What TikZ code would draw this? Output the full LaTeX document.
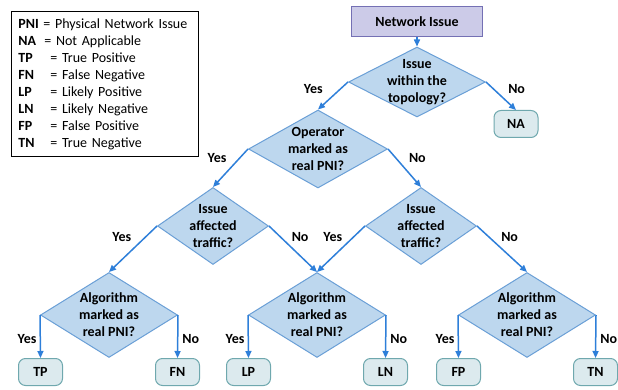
\documentclass[tikz,border=0pt]{standalone}
\usepackage{fontspec}
\setmainfont{Carlito}
\usepackage{xcolor}
\usetikzlibrary{positioning, shapes.geometric, arrows.meta}

\definecolor{decfill}{HTML}{BDD7EE}
\definecolor{decline}{HTML}{6A9FD6}
\definecolor{leaffill}{HTML}{DCEAEE}
\definecolor{leafline}{HTML}{6FA8AE}
\definecolor{topfill}{HTML}{CCCBE8}
\definecolor{topline}{HTML}{7470B4}
\definecolor{arrowblue}{HTML}{2E7FD9}

\newcommand{\keyrow}[3]{\makebox[#1][l]{\textbf{#2}}= #3}

\begin{document}
\begin{tikzpicture}[on grid, line width=1pt, font=\fontsize{14pt}{17pt}\selectfont\bfseries, decision/.style ={diamond, draw=decline, fill=decfill, aspect=1.8, inner sep=-12pt, align=center}, outcome/.style={rectangle, rounded corners=7pt, draw=leafline, fill=leaffill, minimum width=44pt, minimum height=27pt, inner sep=0pt}, issue/.style={rectangle, draw=topline, fill=topfill, minimum width=131pt, minimum height=30pt}, flow/.style={draw=arrowblue, line width=1.5pt, -{Triangle[length=7pt,width=6pt]}}, ans/.style={inner sep=0pt, on grid=false}, legend/.style={draw=black, line width=0.8pt, anchor=north west, align=left, text width=173pt, inner xsep=7pt, minimum height=145pt, font=\fontsize{14pt}{17pt}\selectfont}]
\useasboundingbox (0,0) rectangle (618pt,-390pt);
\node[legend] (key) at (11pt,-11pt) {\textbf{PNI} = Physical Network Issue\\ \keyrow{26pt}{NA}{Not Applicable}\\ \keyrow{32pt}{TP}{True Positive}\\ \keyrow{32pt}{FN}{False Negative}\\ \keyrow{32pt}{LP}{Likely Positive}\\ \keyrow{32pt}{LN}{Likely Negative}\\ \keyrow{32pt}{FP}{False Positive}\\ \keyrow{32pt}{TN}{True Negative}};
\node[issue] (top) at (417pt,-22pt) {Network Issue};
\node[decision, minimum width=137pt, minimum height=70pt] (d1) [below = 60pt of top] {Issue\\within the\\topology?};
\node[outcome] (na) [below right = 42pt and 99pt of d1] {NA};
\node[decision, minimum width=139pt, minimum height=78pt] (d2) [below left = 67pt and 99pt of d1] {Operator\\marked as\\real PNI?};
\node[decision, minimum width=111pt, minimum height=77pt] (d3l) [below left = 77pt and 105pt of d2] {Issue\\affected\\traffic?};
\node[decision, minimum width=111pt, minimum height=77pt] (d3r) [below right = 77pt and 103pt of d2] {Issue\\affected\\traffic?};
\node[decision, minimum width=137pt, minimum height=85pt] (d4l) [below left = 89pt and 104pt of d3l] {Algorithm\\marked as\\real PNI?};
\node[decision, minimum width=137pt, minimum height=85pt] (d4m) [below right = 89pt and 104pt of d3l] {Algorithm\\marked as\\real PNI?};
\node[decision, minimum width=137pt, minimum height=85pt] (d4r) [below right = 89pt and 106pt of d3r] {Algorithm\\marked as\\real PNI?};
\node[outcome] (tp) [below left = 57pt and 68.5pt of d4l] {TP};
\node[outcome] (fn) [below right = 57pt and 68.5pt of d4l] {FN};
\node[outcome] (lp) [below left = 57pt and 68.5pt of d4m] {LP};
\node[outcome] (ln) [below right = 57pt and 68.5pt of d4m] {LN};
\node[outcome] (fp) [below left = 57pt and 68.5pt of d4r] {FP};
\node[outcome] (tn) [below right = 57pt and 68.5pt of d4r] {TN};
\path (top) edge[flow] (d1.north)
(d1.west) edge[flow] node[ans, pos=.25, left=17pt] {Yes} (d2.north)
(d1.east) edge[flow] node[ans, pos=.25, right=14pt] {No} (na.north)
(d2.west) edge[flow] node[ans, pos=.25, left=12pt] {Yes} (d3l.north)
(d2.east) edge[flow] node[ans, pos=.25, right=12pt] {No} (d3r.north)
(d3l.west) edge[flow] node[ans, pos=.25, left=13pt] {Yes} (d4l.north)
(d3l.east) edge[flow] node[ans, pos=.25, right=10pt] {No} (d4m.north)
(d3r.west) edge[flow] node[ans, pos=.25, left=10pt] {Yes} (d4m.north)
(d3r.east) edge[flow] node[ans, pos=.25, right=11pt] {No} (d4r.north)
(d4l.west) edge[flow] node[ans, pos=.55, left=3pt] {Yes} (tp.north)
(d4l.east) edge[flow] node[ans, pos=.55, right=4pt] {No} (fn.north)
(d4m.west) edge[flow] node[ans, pos=.55, left=3pt] {Yes} (lp.north)
(d4m.east) edge[flow] node[ans, pos=.55, right=4pt] {No} (ln.north)
(d4r.west) edge[flow] node[ans, pos=.55, left=3pt] {Yes} (fp.north)
(d4r.east) edge[flow] node[ans, pos=.55, right=4pt] {No} (tn.north);
\end{tikzpicture}
\end{document}
